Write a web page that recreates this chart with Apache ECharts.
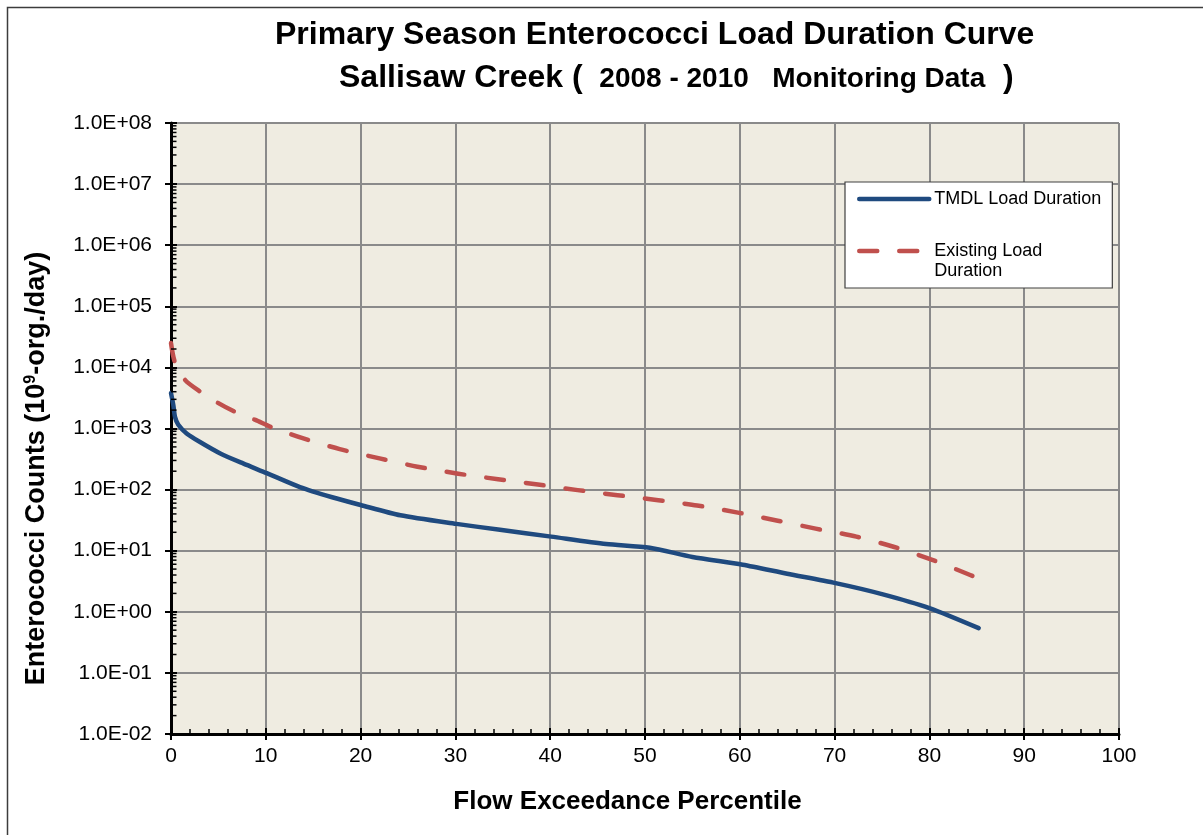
<!DOCTYPE html>
<html><head><meta charset="utf-8">
<script src="https://cdn.jsdelivr.net/npm/echarts@6/dist/echarts.min.js"></script>
<style>html,body{margin:0;padding:0;background:#fff;}#c{width:1203px;height:835px;}</style>
</head><body><div id="c"></div>
<script>
// ---- data ----
const seriesNames = ['TMDL Load Duration', 'Existing Load Duration'];
const tmdlX = [0, 0.25, 0.42, 0.77, 1.65, 3.06, 5.2, 7.6, 10.1, 13.6, 17, 20, 24.2, 30.1, 34.7, 40.1, 45.9, 50.5, 55, 60.3, 65, 70.1, 75, 80, 85.2];
const tmdlY = [3800, 2400, 1550, 1150, 830, 600, 390, 268, 186, 110, 75, 56, 38, 27.5, 22, 17, 12.9, 11.2, 7.9, 5.9, 4.2, 2.95, 1.95, 1.15, 0.54];
const existX = [0, 0.4, 1.5, 3.1, 5, 6.8, 8.9, 10.6, 13.8, 17.8, 22, 26, 30.3, 34.5, 38.7, 42.9, 47.1, 51.4, 55.5, 59.8, 64, 68, 72.3, 76.3, 80.3, 84.3, 85];
const existY = [25000, 12300, 6200, 4000, 2600, 1860, 1380, 1050, 700, 460, 324, 237, 182, 148, 121, 98, 81, 67, 55, 42, 31, 23, 17, 11.5, 7.1, 4.0, 3.6];
const yTickLabels = ['1.0E-02','1.0E-01','1.0E+00','1.0E+01','1.0E+02','1.0E+03','1.0E+04','1.0E+05','1.0E+06','1.0E+07','1.0E+08'];
const yMinorTicks = [];
for (let e = -2; e < 8; e++) { for (let m = 2; m <= 9; m++) { yMinorTicks.push(m * Math.pow(10, e)); } }

const F = 'Liberation Sans, Arial, sans-serif';
const zip = (xs, ys) => xs.map((x, i) => [x, ys[i]]);

const chart = echarts.init(document.getElementById('c'), null, {renderer: 'canvas'});
chart.setOption({
  backgroundColor: '#fff',
  animation: false,
  title: [
    {text: 'Primary Season Enterococci Load Duration Curve', left: 275, top: 19, padding: 0,
     textStyle: {fontSize: 32, fontWeight: 'bold', fontFamily: F, color: '#000'}},
    {text: '{a|Sallisaw Creek}{a| ( }{b| 2008 - 2010   Monitoring Data}{a|  )}', left: 339, top: 62, padding: 0,
     textStyle: {fontFamily: F, rich: {
       a: {fontSize: 32, fontWeight: 'bold', fontFamily: F, color: '#000', verticalAlign: 'bottom'},
       b: {fontSize: 28, fontWeight: 'bold', fontFamily: F, color: '#000', verticalAlign: 'bottom', padding: [0,0,1,0]}
     }}}
  ],
  graphic: [
    {type: 'rect', shape: {x: 7.5, y: 7.5, width: 1400, height: 1000}, style: {fill: 'none', stroke: '#3c3c3c', lineWidth: 1.5}, silent: true, z: 100}
  ],
  legend: {
    orient: 'vertical', left: 845, top: 182,
    backgroundColor: '#fff', borderColor: '#404040', borderWidth: 1.2,
    padding: [7, 11, 7, 12], itemGap: 12,
    itemWidth: 70, itemHeight: 14, selectedMode: false,
    itemStyle: {opacity: 0},
    lineStyle: {width: 4.5},
    textStyle: {fontSize: 18, fontFamily: F, color: '#000', lineHeight: 20},
    data: [{name: seriesNames[0]}, {name: seriesNames[1]}],
    formatter: n => n === seriesNames[1] ? ' \nExisting Load\nDuration' : n
  },
  grid: {left: 171, right: 84, top: 123, bottom: 101, show: true, backgroundColor: '#EFECE1', borderWidth: 0},
  xAxis: [
    {type: 'value', min: 0, max: 100, interval: 10, position: 'bottom',
     name: 'Flow Exceedance Percentile', nameLocation: 'middle', nameGap: 55,
     nameTextStyle: {fontSize: 26, fontWeight: 'bold', fontFamily: F, color: '#000', padding: [0, 35, 0, 0]},
     axisLine: {show: true, onZero: false, lineStyle: {color: '#000', width: 3}},
     axisTick: {show: true, inside: true, length: 6, lineStyle: {color: '#000', width: 2}},
     minorTick: {show: true, splitNumber: 5, length: 5, lineStyle: {color: '#000', width: 1.5}},
     axisLabel: {fontSize: 21, fontFamily: F, color: '#000', margin: 12},
     splitLine: {show: true, lineStyle: {color: '#8a8a8a', width: 2}}},
    {type: 'value', min: 0, max: 100, interval: 10, position: 'bottom',
     axisLine: {show: false}, axisLabel: {show: false}, splitLine: {show: false},
     axisTick: {show: true, inside: false, length: 6, lineStyle: {color: '#000', width: 2}}}
  ],
  yAxis: [
    {type: 'log', logBase: 10, min: 0.01, max: 1e8, interval: 1, splitNumber: 10, position: 'left',
     name: '{a|Enterococci Counts (10}{s|9}{a|-org./day)}', nameLocation: 'middle', nameGap: 121, nameRotate: 90,
     nameTextStyle: {fontFamily: F, padding: [0, 80, 0, 0], rich: {
       a: {fontSize: 27, fontWeight: 'bold', fontFamily: F, color: '#000'},
       s: {fontSize: 16, fontWeight: 'bold', fontFamily: F, color: '#000', verticalAlign: 'top'}
     }},
     axisLine: {show: true, onZero: false, lineStyle: {color: '#000', width: 3}},
     axisTick: {show: true, inside: true, length: 6, lineStyle: {color: '#000', width: 2}},
     axisLabel: {fontSize: 21, fontFamily: F, color: '#000', margin: 19, showMinLabel: true, showMaxLabel: true,
       formatter: v => yTickLabels[Math.round(Math.log10(v)) + 2]},
     splitLine: {show: true, lineStyle: {color: '#8a8a8a', width: 2}}},
    {type: 'log', logBase: 10, min: 0.01, max: 1e8, interval: 1, splitNumber: 10, position: 'left',
     axisLine: {show: false}, axisLabel: {show: false}, splitLine: {show: false},
     axisTick: {show: true, inside: false, length: 6, lineStyle: {color: '#000', width: 2}}}
  ],
  series: [
    {name: seriesNames[0], type: 'line', data: zip(tmdlX, tmdlY), showSymbol: false, symbol: 'none',
     smooth: 0.25, z: 5,
     lineStyle: {color: '#1F4A7F', width: 4.5, cap: 'round', join: 'round'}, itemStyle: {color: '#1F4A7F'}},
    {name: seriesNames[1], type: 'line', data: zip(existX, existY), showSymbol: false, symbol: 'none',
     smooth: 0.25, z: 5,
     lineStyle: {color: '#C0504D', width: 4.5, type: [18, 22], cap: 'round', join: 'round'}, itemStyle: {color: '#C0504D'}},
    {name: 'yMinorTicks', type: 'custom', coordinateSystem: 'cartesian2d', clip: false, silent: true, z: 10,
     data: yMinorTicks.map(v => [0, v]),
     renderItem: (params, api) => {
       const p = api.coord([0, api.value(1)]);
       return {type: 'line', shape: {x1: p[0], y1: p[1], x2: p[0] + 5.5, y2: p[1]}, style: {stroke: '#000', lineWidth: 1.5}};
     }}
  ]
});
</script></body></html>
